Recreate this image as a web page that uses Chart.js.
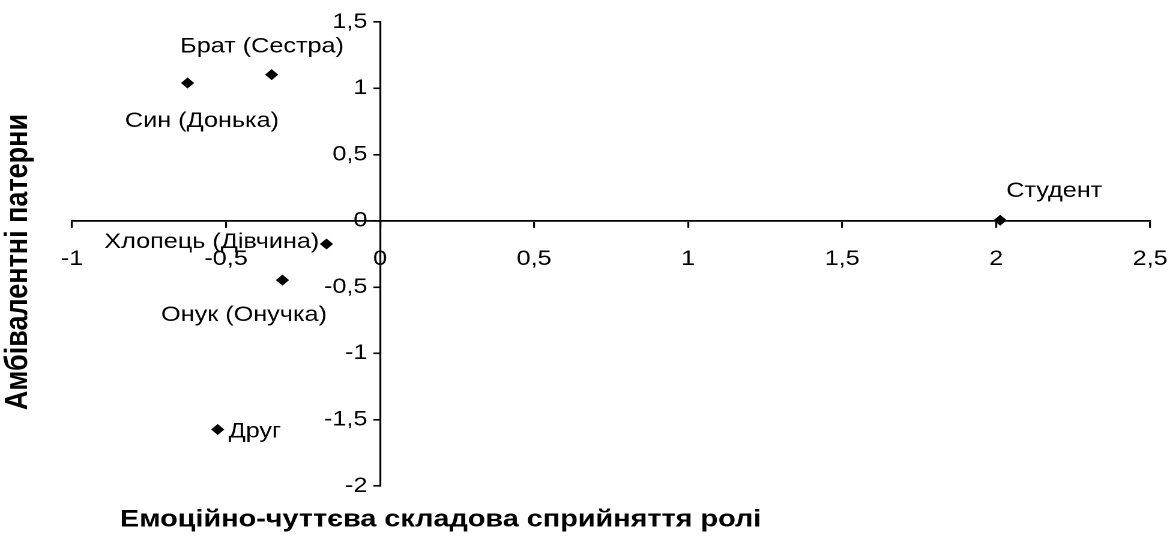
<!DOCTYPE html>
<html lang="uk">
<head>
<meta charset="UTF-8">
<title>Амбівалентні патерни</title>
<script src="https://cdn.jsdelivr.net/npm/chart.js"></script>
<style>
    html, body { margin: 0; padding: 0; background: #fff; overflow: hidden; }
    /* the source picture is stretched sideways: draw 977 wide, show 1173 wide */
    #chart { display: block; width: 1173px; height: 545px; }
</style>
</head>
<body>
<canvas id="chart" width="977" height="545" style="width:1173px;height:545px"></canvas>
<script>
const roles = ['Брат (Сестра)', 'Син (Донька)', 'Студент', 'Хлопець (Дівчина)', 'Онук (Онучка)', 'Друг'];
const emotionalX = [-0.352, -0.625, 2.013, -0.174, -0.317, -0.527];
const ambivalentY = [1.103, 1.04, 0.005, -0.175, -0.447, -1.574];
const xTitle = 'Емоційно-чуттєва складова сприйняття ролі';
const yTitle = 'Амбівалентні патерни';

// where each role name sits relative to its marker
const labelPlace = [
    { dx: -8, dy: -28, align: 'center' },
    { dx: 12, dy: 38, align: 'center' },
    { dx: 45, dy: -29, align: 'center' },
    { dx: -6, dy: -2, align: 'right' },
    { dx: -32, dy: 35, align: 'center' },
    { dx: 9, dy: 2, align: 'left' }
];

const FONT = '"Liberation Sans", Arial, sans-serif';
const fmt = v => String(v).replace('.', ',');

const pointLabels = {
    id: 'pointLabels',
    afterDatasetsDraw(chart) {
        const ctx = chart.ctx;
        const meta = chart.getDatasetMeta(0);
        ctx.save();
        ctx.font = '21px ' + FONT;
        ctx.fillStyle = '#000';
        ctx.textBaseline = 'middle';
        meta.data.forEach((pt, i) => {
            const p = labelPlace[i];
            ctx.textAlign = p.align;
            ctx.fillText(roles[i], pt.x + p.dx, pt.y + p.dy);
        });
        ctx.restore();
    }
};

const axisTitles = {
    id: 'axisTitles',
    afterDraw(chart) {
        const ctx = chart.ctx;
        ctx.save();
        ctx.fillStyle = '#000';
        ctx.textAlign = 'center';
        ctx.textBaseline = 'middle';
        ctx.font = 'bold 24px ' + FONT;
        ctx.fillText(xTitle, 367, 520);
        ctx.font = 'bold 27px ' + FONT;
        ctx.translate(15, 262);
        ctx.rotate(-Math.PI / 2);
        ctx.fillText(yTitle, 0, 0);
        ctx.restore();
    }
};

new Chart(document.getElementById('chart'), {
    type: 'scatter',
    data: {
        datasets: [{
            data: emotionalX.map((x, i) => ({ x: x, y: ambivalentY[i] })),
            pointStyle: 'rectRot',
            pointRadius: 5.5,
            pointHoverRadius: 5.5,
            backgroundColor: '#000',
            borderColor: '#000',
            borderWidth: 0
        }]
    },
    options: {
        responsive: false,
        devicePixelRatio: 2,
        animation: false,
        layout: { padding: { left: 60, right: 19, top: 22, bottom: 59 } },
        plugins: { legend: { display: false }, tooltip: { enabled: false } },
        scales: {
            x: {
                type: 'linear',
                position: { y: 0 },
                min: -1,
                max: 2.5,
                grid: { drawOnChartArea: false, drawTicks: true, tickLength: 6, color: '#000', lineWidth: 1.6 },
                border: { color: '#000', width: 1.8 },
                ticks: {
                    stepSize: 0.5, autoSkip: false, maxRotation: 0,
                    // small padding (it also widens the right margin), tall line pushes text down
                    padding: 2, color: '#000',
                    font: { size: 21, family: FONT, lineHeight: 2.9 },
                    callback: v => fmt(v)
                }
            },
            y: {
                type: 'linear',
                position: { x: 0 },
                min: -2,
                max: 1.5,
                grid: { drawOnChartArea: false, drawTicks: true, tickLength: 5, color: '#000', lineWidth: 1.6 },
                border: { color: '#000', width: 1.6 },
                ticks: {
                    stepSize: 0.5, autoSkip: false, color: '#000',
                    font: { size: 21, family: FONT },
                    // a positioned axis puts labels right on the line, keep a gap
                    callback: v => fmt(v) + '\u2002'
                }
            }
        }
    },
    plugins: [pointLabels, axisTitles]
});
</script>
</body>
</html>
